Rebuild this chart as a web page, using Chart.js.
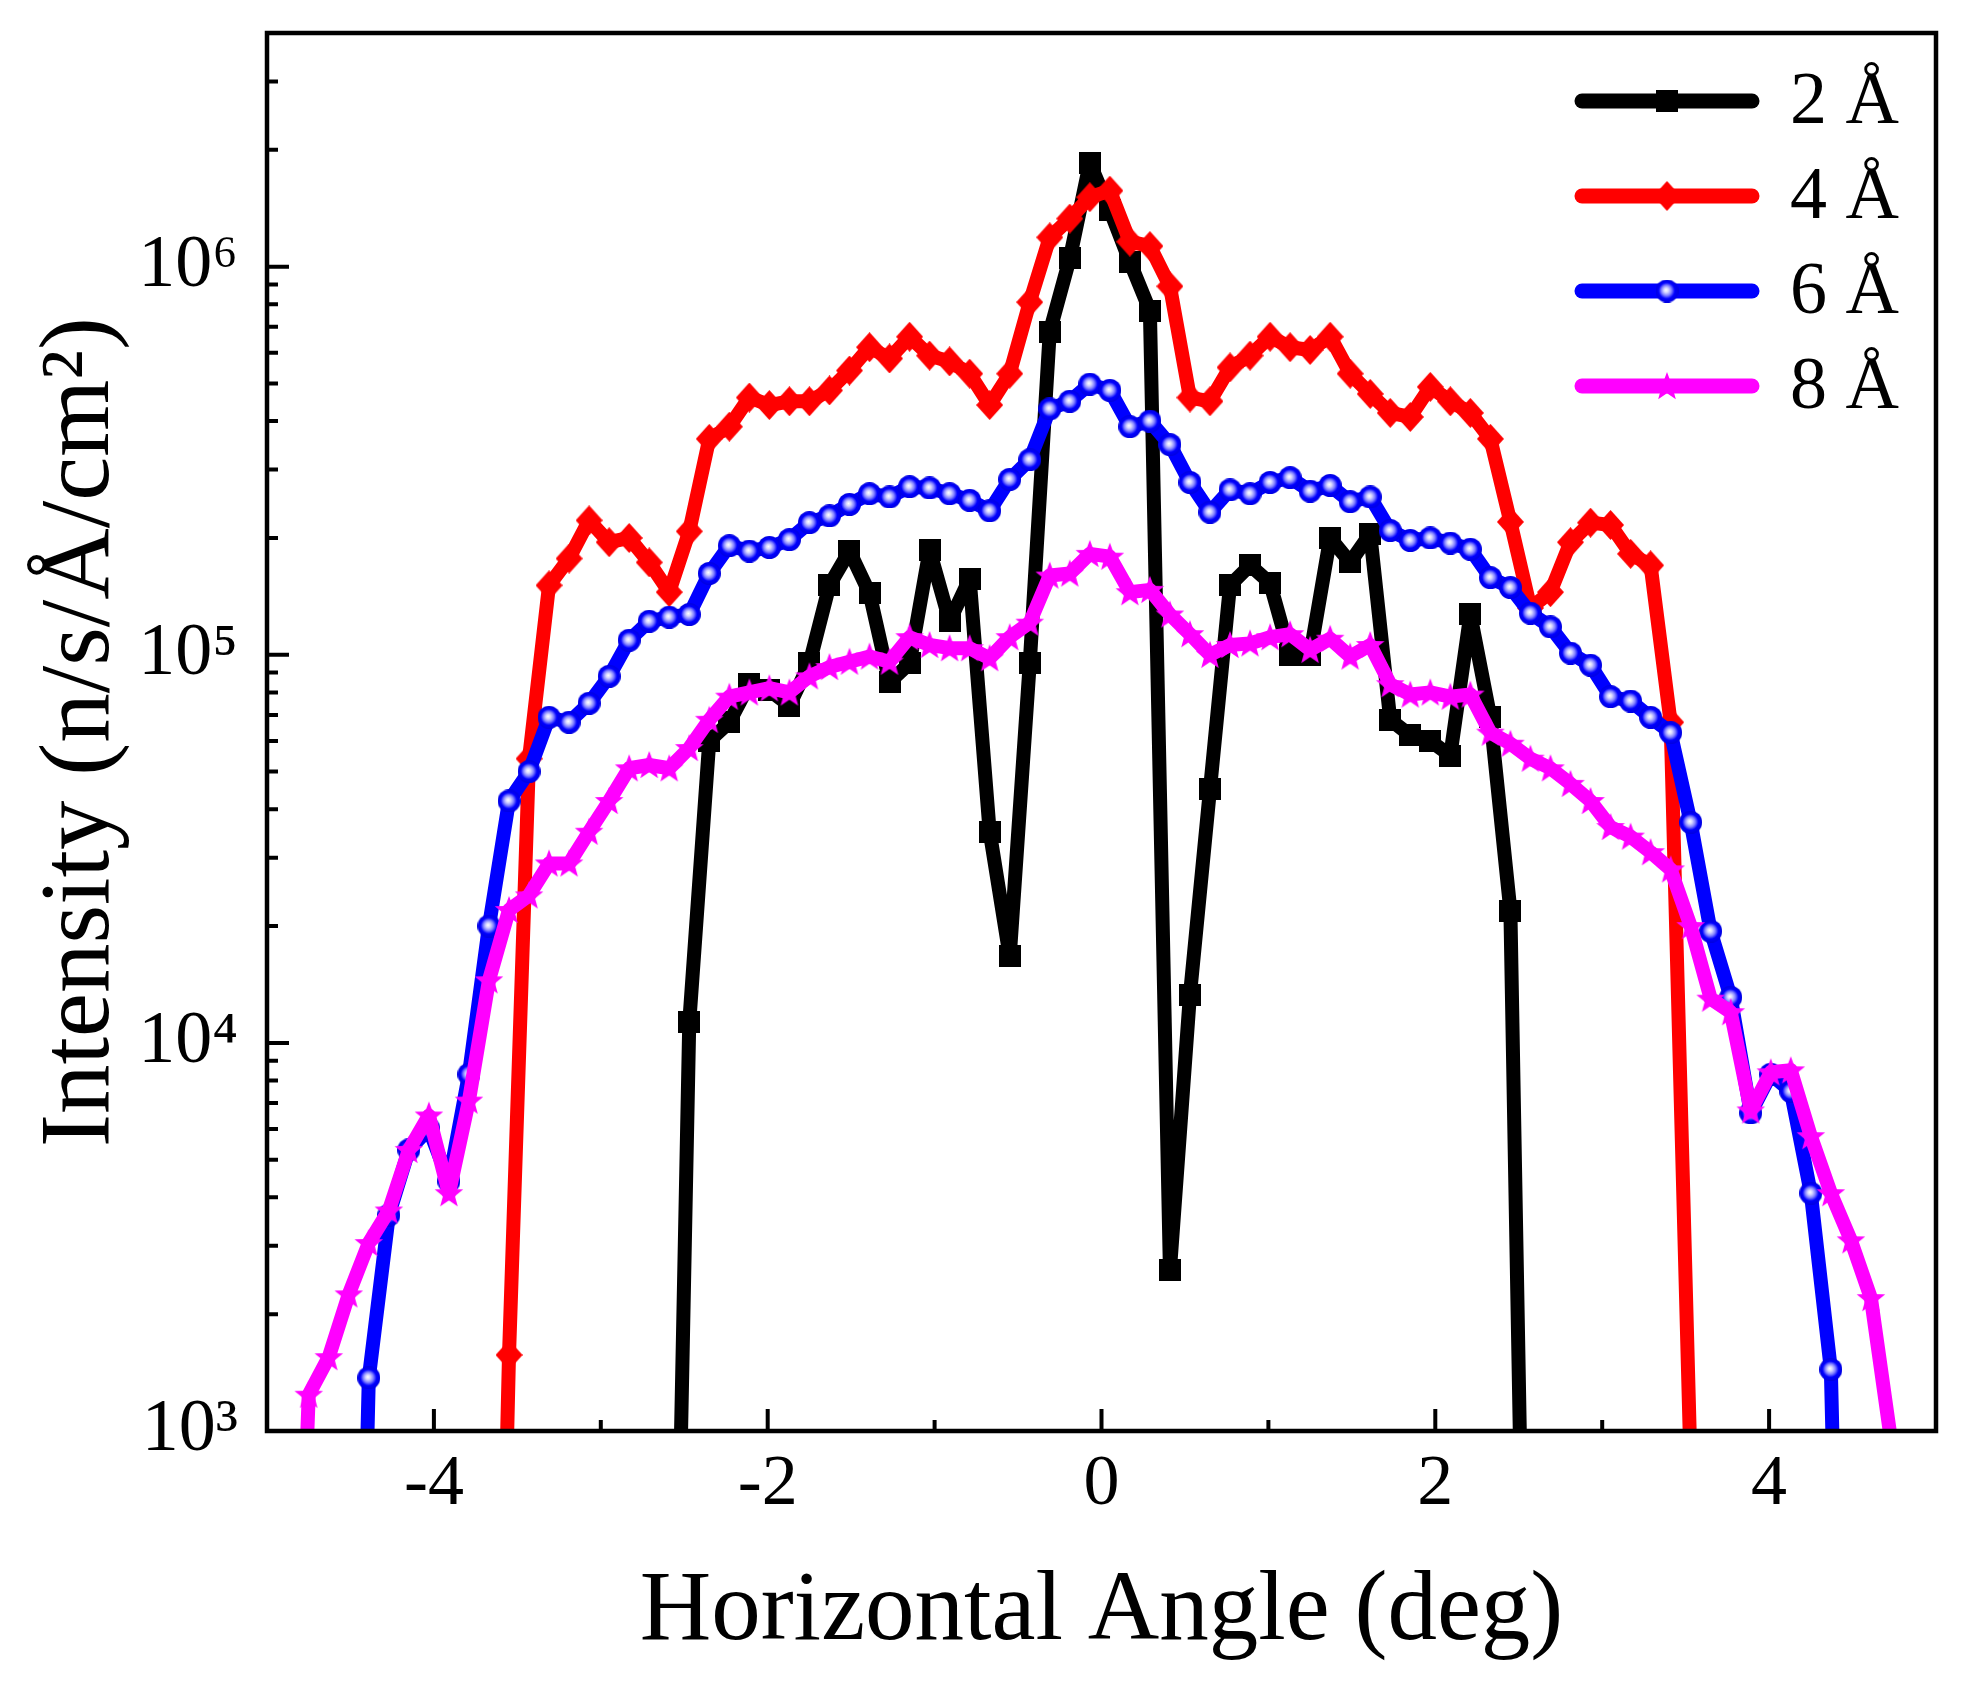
<!doctype html>
<html lang="en">
<head>
    <meta charset="utf-8">
    <title>Horizontal angle intensity</title>
    <script src="https://cdn.jsdelivr.net/npm/chart.js@4.4.0/dist/chart.umd.min.js"></script>
</head>
<style>
    body{
        margin: 0;
        background: #fff;
    }
    canvas{
        display: block;
    }
</style>
<body>
    <canvas id="myChart" width="1967" height="1681"></canvas>
</body>
<script>
    // horizontal angle (deg), common grid for all wavelengths
    let angles = [
        -4.87, -4.75, -4.63, -4.51, -4.39, -4.27, -4.15, -4.03, -3.91, -3.79,
        -3.67, -3.55, -3.43, -3.31, -3.19, -3.07, -2.95, -2.83, -2.71, -2.59,
        -2.47, -2.35, -2.23, -2.11, -1.99, -1.87, -1.75, -1.63, -1.51, -1.39,
        -1.27, -1.15, -1.03, -0.91, -0.79, -0.67, -0.55, -0.43, -0.31, -0.19,
        -0.07, 0.05, 0.17, 0.29, 0.41, 0.53, 0.65, 0.77, 0.89, 1.01,
        1.13, 1.25, 1.37, 1.49, 1.61, 1.73, 1.85, 1.97, 2.09, 2.21,
        2.33, 2.45, 2.57, 2.69, 2.81, 2.93, 3.05, 3.17, 3.29, 3.41,
        3.53, 3.65, 3.77, 3.89, 4.01, 4.13, 4.25, 4.37, 4.49, 4.61,
        4.73
    ];

    // intensity n/s/A/cm2, null = no point
    let int2A = [
        null, null, null, null, null, null, null, null, null, null,
        null, null, null, null, null, null, null, null, null, 30,
        11300, 60000, 67000, 84000, 81000, 74000, 95000, 151000, 185000, 144000,
        85000, 95000, 186000, 122000, 157000, 35000, 16700, 95000, 680000, 1050000,
        1850000, 1400000, 1030000, 770000, 2600, 13300, 45000, 151000, 170000, 153000,
        100000, 100000, 200000, 173000, 205000, 68000, 62000, 60000, 55000, 127000,
        69000, 21900, 30, null, null, null, null, null, null, null,
        null, null, null, null, null, null, null, null, null, null,
        null
    ];
    let int4A = [
        null, null, null, null, null, null, null, null, null, null,
        10, 1570, 54000, 151000, 177000, 222000, 195000, 200000, 173000, 145000,
        208000, 360000, 387000, 460000, 440000, 450000, 450000, 480000, 540000, 620000,
        580000, 660000, 590000, 570000, 530000, 440000, 530000, 810000, 1190000, 1330000,
        1510000, 1570000, 1160000, 1130000, 890000, 460000, 450000, 550000, 590000, 660000,
        620000, 610000, 660000, 530000, 470000, 420000, 410000, 490000, 450000, 420000,
        360000, 220000, 132000, 145000, 195000, 219000, 216000, 182000, 170000, 67000,
        800, null, null, null, null, null, null, null, null, null,
        null
    ];
    let int6A = [
        null, null, null, 10, 1370, 3600, 5300, 6000, 4400, 8300,
        20000, 42000, 50000, 69000, 67000, 75000, 88000, 109000, 122000, 125000,
        127000, 162000, 191000, 185000, 189000, 198000, 219000, 228000, 244000, 260000,
        255000, 271000, 269000, 260000, 250000, 235000, 283000, 318000, 430000, 450000,
        498000, 480000, 387000, 400000, 348000, 278000, 233000, 266000, 260000, 278000,
        286000, 264000, 273000, 248000, 255000, 209000, 197000, 200000, 194000, 187000,
        158000, 149000, 128000, 118000, 101000, 94000, 78000, 76000, 69000, 63000,
        37000, 19400, 13100, 6600, 8300, 7500, 4100, 1440, 10, null,
        null
    ];
    let int8A = [
        50, 1240, 1550, 2250, 3050, 3700, 5300, 6500, 4100, 7100,
        14500, 22000, 24000, 29000, 29000, 35000, 42000, 51000, 52000, 51000,
        57500, 68000, 78000, 80000, 82000, 80000, 88000, 93000, 96000, 99000,
        96000, 111000, 106000, 104000, 104000, 98000, 111000, 121000, 160000, 162000,
        182000, 179000, 145000, 147000, 127000, 113000, 100000, 106000, 107000, 111000,
        113000, 103000, 110000, 99000, 106000, 84000, 79000, 80000, 78000, 79000,
        63000, 59000, 54000, 51000, 46500, 42000, 36000, 34000, 31000, 28000,
        20000, 13000, 12000, 6700, 8400, 8500, 5750, 4100, 3100, 2200,
        950
    ];

    let seriesLabels = ["2 Å", "4 Å", "6 Å", "8 Å"];
    let seriesColors = ["#000000", "#ff0000", "#0000ff", "#ff00ff"];
    let xTicks = [-4, -2, 0, 2, 4];
    let yTicks = [1e3, 1e4, 1e5, 1e6];

    let FONT = "'Liberation Serif', 'Times New Roman', serif";
    let sup = {"3": "³", "4": "⁴", "5": "⁵", "6": "⁶"};

    // ---- marker images (Origin style symbols) ----
    let makeCanvas = (w, h) => {
        let c = document.createElement("canvas");
        c.width = w; c.height = h;
        return c;
    }
    let makeSquare = (s, color) => {
        let c = makeCanvas(s, s);
        let g = c.getContext("2d");
        g.fillStyle = color;
        g.fillRect(0, 0, s, s);
        return c;
    }
    let makeDiamond = (w, h, color) => {
        let c = makeCanvas(w, h);
        let g = c.getContext("2d");
        g.fillStyle = color;
        g.beginPath();
        g.moveTo(w / 2, 0); g.lineTo(w, h / 2); g.lineTo(w / 2, h); g.lineTo(0, h / 2);
        g.closePath();
        g.fill();
        return c;
    }
    let makeBall = (d) => {
        let c = makeCanvas(d, d);
        let g = c.getContext("2d");
        let r = d / 2;
        let grad = g.createRadialGradient(r - 1, r - 1, 0, r, r, r);
        grad.addColorStop(0, "#ffffff");
        grad.addColorStop(0.2, "#d8d8ff");
        grad.addColorStop(0.45, "#8080ff");
        grad.addColorStop(0.7, "#0000ff");
        grad.addColorStop(1, "#0000e0");
        g.fillStyle = grad;
        g.beginPath();
        g.arc(r, r, r, 0, Math.PI * 2);
        g.fill();
        return c;
    }
    let makeStar = (d, color) => {
        let c = makeCanvas(d, d);
        let g = c.getContext("2d");
        let R = d / 2, ri = R * 0.42;
        g.fillStyle = color;
        g.beginPath();
        for (let i = 0; i < 10; i++) {
            let rad = (i % 2 === 0) ? R : ri;
            let a = -Math.PI / 2 + i * Math.PI / 5;
            let px = R + rad * Math.cos(a), py = R + 1 + rad * Math.sin(a);
            if (i === 0) g.moveTo(px, py); else g.lineTo(px, py);
        }
        g.closePath();
        g.fill();
        return c;
    }

    let markers = [
        makeSquare(22, seriesColors[0]),
        makeDiamond(27, 30, seriesColors[1]),
        makeBall(23),
        makeStar(30, seriesColors[3])
    ];

    let toPoints = (arr) => angles.map((a, i) => ({x: a, y: arr[i]}));

    // ---- frame, inward ticks and legend ----
    let framePlugin = {
        id: "framePlugin",
        afterDraw: (chart) => {
            let ctx = chart.ctx;
            let a = chart.chartArea;
            let xs = chart.scales.x, ys = chart.scales.y;
            ctx.save();
            ctx.strokeStyle = "#000";
            ctx.lineWidth = 4;
            ctx.lineCap = "butt";
            ctx.beginPath();
            for (let v = -4; v <= 4; v++) {
                let px = xs.getPixelForValue(v);
                let len = (v % 2 === 0) ? 22 : 11;
                ctx.moveTo(px, a.bottom);
                ctx.lineTo(px, a.bottom - len);
            }
            for (let e = 3; e <= 6; e++) {
                for (let m = 1; m <= 9; m++) {
                    let v = m * Math.pow(10, e);
                    if (v >= ys.max) break;
                    let py = ys.getPixelForValue(v);
                    let len = (m === 1) ? 22 : 11;
                    ctx.moveTo(a.left, py);
                    ctx.lineTo(a.left + len, py);
                }
            }
            ctx.stroke();
            ctx.lineWidth = 4.5;
            ctx.strokeRect(a.left, a.top, a.right - a.left, a.bottom - a.top);

            // legend
            ctx.font = "74px " + FONT;
            ctx.textBaseline = "middle";
            ctx.textAlign = "left";
            seriesLabels.forEach((lab, i) => {
                let y = 101 + i * 95;
                ctx.strokeStyle = seriesColors[i];
                ctx.lineWidth = 15;
                ctx.lineCap = "round";
                ctx.beginPath();
                ctx.moveTo(1582, y);
                ctx.lineTo(1752, y);
                ctx.stroke();
                let mk = markers[i];
                ctx.drawImage(mk, 1667 - mk.width / 2, y - mk.height / 2);
                ctx.fillStyle = "#000";
                ctx.fillText(lab, 1790, y + 3);
            });
            ctx.restore();
        }
    };

    let makeDataset = (i, arr, order) => ({
        label: seriesLabels[i],
        data: toPoints(arr),
        borderColor: seriesColors[i],
        backgroundColor: seriesColors[i],
        borderWidth: 14,
        borderJoinStyle: "round",
        pointStyle: markers[i],
        pointRadius: 11,
        tension: 0,
        spanGaps: false,
        clip: 0,
        order: order
    });

    let showChart = () => {
        let ctx = document.getElementById("myChart");
        new Chart(ctx, {
            type: "line",
            data: {
                datasets: [
                    makeDataset(0, int2A, 3),
                    makeDataset(1, int4A, 2),
                    makeDataset(2, int6A, 1),
                    makeDataset(3, int8A, 0)
                ]
            },
            plugins: [framePlugin],
            options: {
                responsive: false,
                animation: false,
                events: [],
                devicePixelRatio: 1,
                layout: {
                    padding: {top: 33, right: 31, left: 0, bottom: 0}
                },
                plugins: {
                    legend: {display: false},
                    tooltip: {enabled: false}
                },
                scales: {
                    x: {
                        type: "linear",
                        min: -5,
                        max: 5,
                        grid: {display: false, drawTicks: false},
                        border: {display: false},
                        afterBuildTicks: (s) => { s.ticks = xTicks.map(v => ({value: v})); },
                        afterFit: (s) => {
                            s.height = 250;
                            s.paddingLeft = 0; s.paddingRight = 0;
                        },
                        ticks: {
                            color: "#000",
                            padding: 11,
                            maxRotation: 0,
                            font: {family: FONT, size: 72},
                            callback: (v) => String(v)
                        },
                        title: {
                            display: true,
                            text: "Horizontal Angle (deg)",
                            color: "#000",
                            font: {family: FONT, size: 99},
                            padding: {top: 0, bottom: 9}
                        }
                    },
                    y: {
                        type: "logarithmic",
                        min: 1000,
                        max: 4e6,
                        grid: {display: false, drawTicks: false},
                        border: {display: false},
                        afterBuildTicks: (s) => { s.ticks = yTicks.map(v => ({value: v, major: true})); },
                        afterFit: (s) => {
                            s.width = 267;
                            s.paddingTop = 0; s.paddingBottom = 0;
                        },
                        ticks: {
                            color: "#000",
                            padding: 29,
                            font: {family: FONT, size: 74},
                            callback: (v) => "10" + sup[String(Math.round(Math.log10(v)))]
                        },
                        title: {
                            display: true,
                            text: "Intensity (n/s/Å/cm²)",
                            color: "#000",
                            font: {family: FONT, size: 99},
                            padding: {top: 23, bottom: 0}
                        }
                    }
                }
            }
        });
    }

    showChart();
</script>
</html>
